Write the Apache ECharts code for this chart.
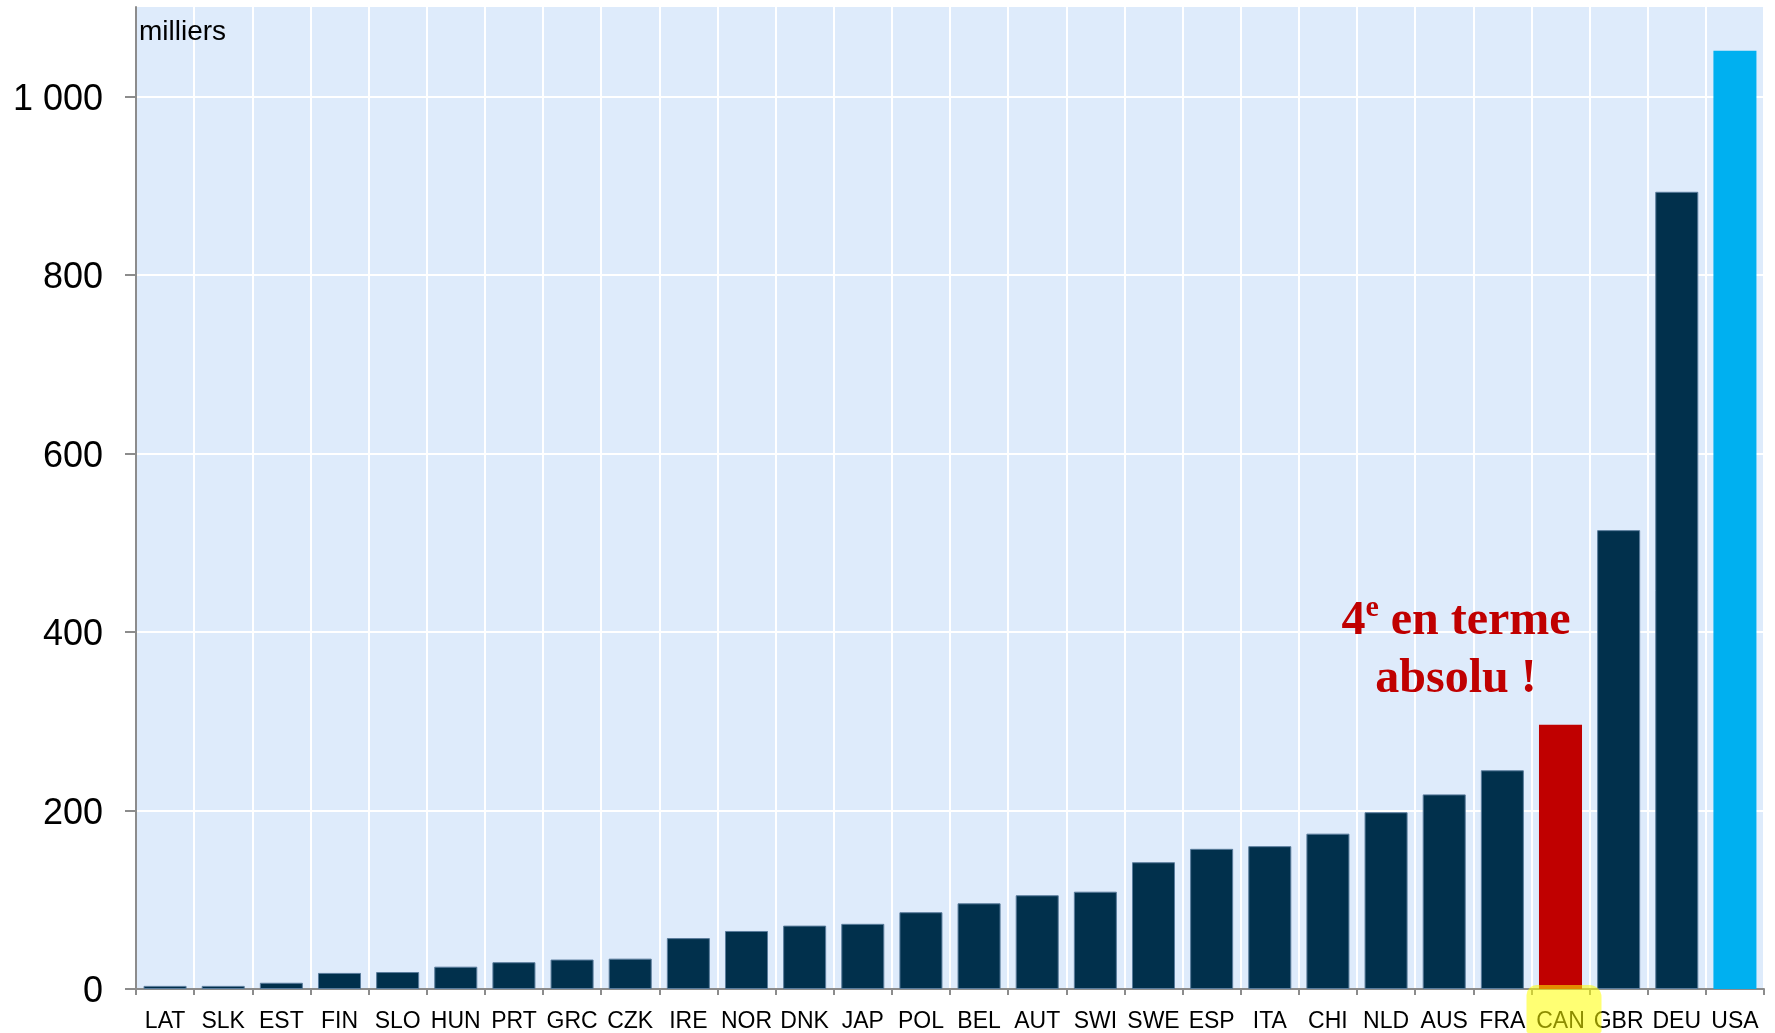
<!DOCTYPE html>
<html>
<head>
<meta charset="utf-8">
<script src="https://cdn.jsdelivr.net/npm/echarts@6/dist/echarts.min.js"></script>
<style>
html,body{margin:0;padding:0;background:#fff;}
#chart{width:1775px;height:1033px;}
</style>
</head>
<body>
<div id="chart"></div>
<script>
const categories = ['LAT','SLK','EST','FIN','SLO','HUN','PRT','GRC','CZK','IRE','NOR','DNK','JAP','POL','BEL','AUT','SWI','SWE','ESP','ITA','CHI','NLD','AUS','FRA','CAN','GBR','DEU','USA'];
const values = [3.5,3.5,7,18,19,25,30,33,34,57,65,71,73,86,96,105,109,142,157,160,174,198,218,245,296,514,893,1051];
const yTicks = [0,200,400,600,800,1000];
const unitLabel = 'milliers';
const annotationLine1 = ['4', 'e', ' en terme'];
const annotationLine2 = 'absolu !';
const highlightCategory = 'CAN';

const defaultColor = '#01304C';
const specialColors = { CAN: '#C00000', USA: '#00B0F0' };

const chart = echarts.init(document.getElementById('chart'), null, { renderer: 'canvas' });

const seriesData = values.map((v, i) => {
  const c = categories[i];
  const special = specialColors[c];
  return {
    value: v,
    itemStyle: special
      ? { color: special, borderWidth: 0 }
      : { color: defaultColor, borderColor: '#5A7C9C', borderWidth: 1 }
  };
});

const fmtThousands = v => String(v).replace(/\B(?=(\d{3})+(?!\d))/g, ' ');
const FONT_SANS = '"Liberation Sans", Arial, sans-serif';
const FONT_SERIF = '"Liberation Serif", "Times New Roman", serif';

const option = {
  animation: false,
  backgroundColor: '#ffffff',
  grid: {
    left: 136, right: 11, top: 7, bottom: 44,
    show: true, backgroundColor: '#DEEBFB', borderWidth: 0
  },
  xAxis: {
    type: 'category',
    data: categories,
    boundaryGap: true,
    axisLine: { show: true, lineStyle: { color: '#8C8C8C', width: 2 } },
    axisTick: { show: true, alignWithLabel: false, length: 6, lineStyle: { color: '#8C8C8C', width: 2 } },
    splitLine: { show: true, lineStyle: { color: '#FFFFFF', width: 2 } },
    axisLabel: {
      interval: 0,
      margin: 21,
      color: '#000',
      fontFamily: FONT_SANS,
      fontSize: 23
    }
  },
  yAxis: {
    type: 'value',
    min: 0, max: 1100, interval: 200,
    axisLine: { show: true, lineStyle: { color: '#8C8C8C', width: 2 } },
    axisTick: { show: true, length: 11, customValues: yTicks, lineStyle: { color: '#8C8C8C', width: 2 } },
    splitLine: { show: true, lineStyle: { color: '#FFFFFF', width: 2 } },
    axisLabel: {
      customValues: yTicks,
      margin: 33,
      color: '#000',
      fontFamily: FONT_SANS,
      fontSize: 36,
      verticalAlign: 'top',
      lineHeight: 7,
      formatter: v => fmtThousands(v)
    }
  },
  series: [{
    type: 'bar',
    data: seriesData,
    barWidth: '74%'
  }],
  graphic: [
    {
      id: 'unit',
      type: 'text',
      x: 139, y: 18,
      style: {
        text: unitLabel,
        fill: '#000',
        font: '28px ' + FONT_SANS,
        align: 'left', verticalAlign: 'top'
      },
      z: 100
    },
    {
      id: 'annot',
      type: 'text',
      x: 1456, y: 593,
      style: {
        text: '{a|' + annotationLine1[0] + '}{s|' + annotationLine1[1] + '}{a|' + annotationLine1[2] + '}\n{a|' + annotationLine2 + '}',
        fill: '#C00000',
        align: 'center', verticalAlign: 'top',
        rich: {
          a: { fontSize: 48, lineHeight: 58, fontWeight: 'bold', fontFamily: FONT_SERIF, fill: '#C00000' },
          s: { fontSize: 30, lineHeight: 44, verticalAlign: 'top', fontWeight: 'bold', fontFamily: FONT_SERIF, fill: '#C00000' }
        }
      },
      z: 100
    }
  ]
};

chart.setOption(option);

// Highlighter mark over the highlighted category label, placed through the axis scales
const hx = chart.convertToPixel({ xAxisIndex: 0 }, highlightCategory);
const hy = chart.convertToPixel({ yAxisIndex: 0 }, 0);
chart.setOption({
  graphic: [{
    id: 'highlighter',
    type: 'rect',
    shape: { x: hx - 34, y: hy - 4, width: 75, height: 1033 - (hy - 4), r: [10, 12, 2, 2] },
    style: { fill: '#FFFF00', opacity: 0.55 },
    z: 200
  }]
});
</script>
</body>
</html>
